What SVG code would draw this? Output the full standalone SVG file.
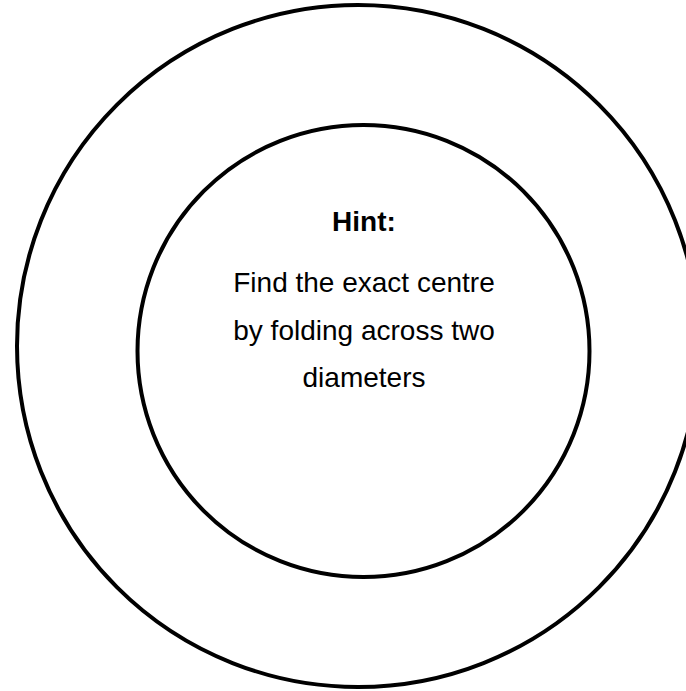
<svg xmlns="http://www.w3.org/2000/svg" width="686" height="691" viewBox="0 0 686 691">
<style>
.ring{fill:none;stroke:#000;stroke-width:4}
.t{font-family:"Liberation Sans",Arial,sans-serif;font-size:28px;fill:#000;text-anchor:middle}
.b{font-weight:bold}
</style>
<rect width="686" height="691" fill="#fff"/>
<g id="outer"><circle class="ring" cx="358" cy="346" r="341"/></g>
<g id="inner"><circle class="ring" cx="363.5" cy="351" r="226"/></g>
<g id="hint">
<text class="t b" x="364" y="231">Hint:</text>
<text class="t" x="364" y="292">Find the exact centre</text>
<text class="t" x="364" y="340">by folding across two</text>
<text class="t" x="364" y="387">diameters</text>
</g>
</svg>
